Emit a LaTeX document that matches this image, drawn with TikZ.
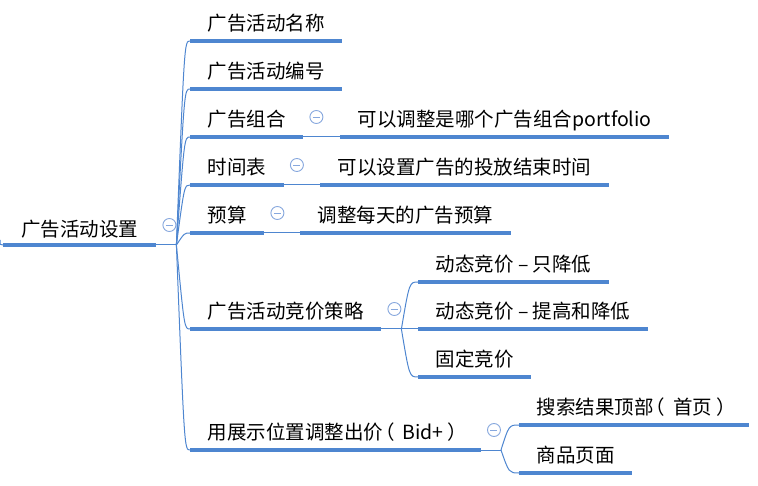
\documentclass[tikz,border=0pt]{standalone}
\usepackage{fontspec}
\setmainfont{Noto Sans CJK SC}
\usetikzlibrary{calc}
\definecolor{mapblue}{RGB}{78,134,208}
\definecolor{knobblue}{RGB}{135,168,222}
% centred full-width brackets
\newcommand{\lbrk}{\kern-8pt（\kern8pt}
\newcommand{\rbrk}{\kern4pt）\kern-4pt}
\tikzset{
  topic/.style={anchor=south west, inner xsep=17.5pt, inner ysep=0pt,
    text height=15pt, text depth=10pt, font=\fontsize{19.5}{22}\selectfont},
  uline/.style={mapblue, line width=4pt},
  branch/.style={mapblue, line width=1pt},
  knob/.style={circle, draw=knobblue, fill=white, line width=0.9pt,
    minimum size=13pt, inner sep=0pt,
    path picture={\draw[knobblue, line width=0.9pt]
      ($(path picture bounding box.center)+(-3.5pt,0)$) --
      ($(path picture bounding box.center)+(3.5pt,0)$);}},
}
\begin{document}
\begin{tikzpicture}[x=1pt, y=-1pt]
    \useasboundingbox (0,0) rectangle (758,486);
% Topics
    \node[topic, text depth=8.5pt, inner xsep=18pt] (root) at (3,245) {广告活动设置};
    \node[topic] (name)   at (190,41)  {广告活动名称};
    \node[topic] (code)   at (190,89)  {广告活动编号};
    \node[topic] (group)  at (190,137) {广告组合};
    \node[topic] (sched)  at (190,185) {时间表};
    \node[topic] (budget) at (190,233) {预算};
    \node[topic] (bid)    at (190,329) {广告活动竞价策略};
    \node[topic] (place)  at (190,450) {用展示位置调整出价\lbrk Bid+\rbrk};
% Subtopics
    \node[topic] (groupnote)  at (340,137) {可以调整是哪个广告组合portfolio};
    \node[topic] (schednote)  at (320,185) {可以设置广告的投放结束时间};
    \node[topic] (budgetnote) at (300,233) {调整每天的广告预算};
    \node[topic] (down)   at (418,282) {动态竞价 – 只降低};
    \node[topic] (updown) at (418,329) {动态竞价 – 提高和降低};
    \node[topic] (fixed)  at (418,377) {固定竞价};
    \node[topic] (top)    at (519,425) {搜索结果顶部\lbrk 首页\rbrk};
    \node[topic] (page)   at (519,473) {商品页面};
% Junctions
    \foreach \p in {root,bid,place}
        \coordinate (\p j) at ($(\p.south east)+(20,0)$);
    \coordinate (curl) at (0,240);
% Draw branches
    \draw[branch] (root.south west) .. controls (0,245) .. (curl);
    \foreach \p/\kids in {root/{name,code,group,sched,budget,bid,place},
                          bid/{down,updown,fixed}, place/{top,page}} {
        \draw[branch] (\p.south east) -- (\p j);
        \foreach \c in \kids
            \draw[branch] (\p j) .. controls ($(\p j |- \c.south west)+(8,0)$) .. (\c.south west);
    }
    \foreach \p/\c in {group/groupnote, sched/schednote, budget/budgetnote}
        \draw[branch] (\p.south east) -- (\c.south west);
% Draw underlines
    \foreach \n in {root,name,code,group,sched,budget,bid,place,groupnote,
                    schednote,budgetnote,down,updown,fixed,top,page}
        \draw[uline] (\n.south west) -- (\n.south east);
% Collapse knobs
    \foreach \n in {root,group,sched,budget,bid,place}
        \node[knob] (\n k) at ($(\n.south east)+(13,-20)$) {};
\end{tikzpicture}
\end{document}
